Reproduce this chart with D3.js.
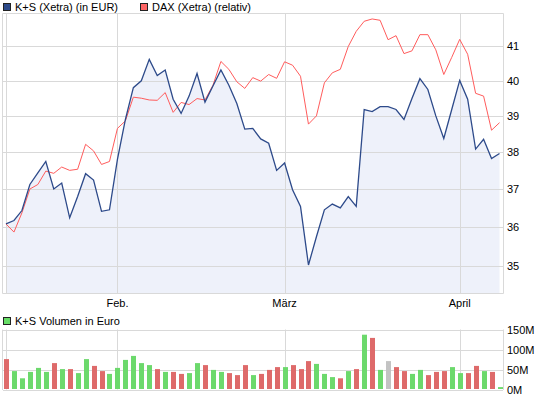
<!DOCTYPE html>
<html>
<head>
<meta charset="utf-8">
<script src="https://cdn.jsdelivr.net/npm/d3@7"></script>
<style>
  html, body { margin: 0; padding: 0; background: #fff; }
  svg { display: block; }
  text { font-family: "Liberation Sans", Arial, sans-serif; font-size: 11px; fill: #000; }
</style>
</head>
<body>
<svg id="chart" width="545" height="398"></svg>
<script>
// ---- data ----
const ksClose = [36.08,36.17,36.43,37.12,37.43,37.74,37.0,37.16,36.24,36.8,
  37.41,37.24,36.41,36.45,37.8,38.9,39.8,40.0,40.62,40.15,
  40.31,39.47,39.07,39.56,40.21,39.39,39.85,40.31,39.87,39.35,
  38.63,38.65,38.36,38.24,37.5,37.7,36.98,36.54,35.03,35.75,
  36.45,36.6,36.5,36.8,36.54,39.18,39.12,39.26,39.26,39.18,
  38.9,39.49,40.06,39.75,39.0,38.37,39.18,40.01,39.47,38.08,
  38.35,37.82,37.96];
const daxRelative = [36.08,35.87,36.37,37.0,37.12,37.48,37.42,37.59,37.5,37.53,
  38.21,38.03,37.66,37.74,38.65,38.86,39.53,39.5,39.45,39.44,
  39.66,39.1,39.38,39.32,39.49,39.45,39.87,40.56,40.33,39.97,
  39.78,40.09,39.99,40.18,40.07,40.55,40.45,40.13,38.77,39.0,
  39.94,40.23,40.33,41.0,41.45,41.75,41.82,41.78,41.2,41.32,
  40.79,40.87,41.35,41.35,40.9,40.18,40.68,41.21,40.77,39.64,
  39.56,38.6,38.81];
const volumeMillions = [76,46,28,44,54,44,66,51,51,41,76,59,46,39,54,74,84,66,61,51,
  44,44,39,41,66,61,49,44,41,36,61,36,39,49,56,56,61,51,71,64,
  39,31,28,46,51,137,129,49,71,56,46,39,49,36,44,46,56,41,41,59,46,44,6];
const prevClose = 36.2; // close before first day (first bar is a down day)
const monthLabels = ["Feb.", "März", "April"];
const monthIndex = [14, 35, 57];
const priceTicks = [35, 36, 37, 38, 39, 40, 41];
const volumeTicks = [0, 50, 100, 150];
const legendMain = ["K+S (Xetra) (in EUR)", "DAX (Xetra) (relativ)"];
const legendVolume = "K+S Volumen in Euro";

// ---- layout ----
const svg = d3.select("#chart");
const L = 3, R = 503, P0 = 6, P1 = 499.5;
const mainTop = 13, mainBot = 293;
const volTop = 329.5, volBot = 389.5;
const gridColor = "#d9d9d9";
const blue = "#2d4a8a", red = "#ff5c5c";
const cUp = "#6cd96c", cDown = "#de6a6a", cFlat = "#c3c3c3";

const n = ksClose.length;
const x = d3.scaleLinear().domain([0, n - 1]).range([P0, P1]);
const y = d3.scaleLog().domain([34.33, 42.0]).range([mainBot, mainTop]);
const yv = d3.scaleLinear().domain([0, 150]).range([volBot, volTop]);
const px = v => Math.round(v) + 0.5;

// ---- main panel ----
const gMain = svg.append("g");
// area fill
gMain.append("path")
  .datum(ksClose)
  .attr("fill", "#eef1fa")
  .attr("d", d3.area().x((d, i) => x(i)).y0(mainBot).y1(d => y(d)));
// horizontal grid
gMain.selectAll("line.hg").data(priceTicks).join("line")
  .attr("x1", L).attr("x2", R)
  .attr("y1", d => px(y(d))).attr("y2", d => px(y(d)))
  .attr("stroke", gridColor);
// vertical month grid
gMain.selectAll("line.vg").data(monthIndex).join("line")
  .attr("x1", d => px(x(d))).attr("x2", d => px(x(d)))
  .attr("y1", mainTop).attr("y2", mainBot)
  .attr("stroke", gridColor);
// frame
gMain.append("path")
  .attr("d", `M${L - 0.5},${mainTop + 0.5}H${R + 0.5}V${mainBot + 0.5}H${L - 0.5}Z`)
  .attr("fill", "none").attr("stroke", gridColor);
gMain.append("line").attr("x1", P0 + 0.5).attr("x2", P0 + 0.5)
  .attr("y1", mainTop).attr("y2", mainBot).attr("stroke", gridColor);
// lines
const lineGen = d3.line().x((d, i) => x(i)).y(d => y(d));
gMain.append("path").datum(daxRelative)
  .attr("fill", "none").attr("stroke", red).attr("stroke-width", 1).attr("d", lineGen);
gMain.append("path").datum(ksClose)
  .attr("fill", "none").attr("stroke", blue).attr("stroke-width", 1.3).attr("d", lineGen);

// right axis price labels
svg.selectAll("text.pt").data(priceTicks).join("text")
  .attr("x", 507).attr("y", d => y(d) + 4)
  .text(d => d);

// month labels
svg.selectAll("text.mt").data(monthIndex).join("text")
  .attr("x", d => x(d)).attr("y", 307).attr("text-anchor", "middle")
  .text((d, i) => monthLabels[i]);

// legend main
const leg = svg.append("g");
[[3, blue, legendMain[0]], [140, "#ff6666", legendMain[1]]].forEach(([lx, c, t]) => {
  leg.append("rect").attr("x", lx + 0.5).attr("y", 3.5).attr("width", 7).attr("height", 7)
    .attr("fill", c).attr("stroke", "#222");
  leg.append("text").attr("x", lx + 12).attr("y", 11).text(t);
});

// ---- volume panel ----
const gVol = svg.append("g");
gVol.selectAll("line.vhg").data(volumeTicks).join("line")
  .attr("x1", L).attr("x2", R)
  .attr("y1", d => px(yv(d))).attr("y2", d => px(yv(d)))
  .attr("stroke", gridColor);
gVol.selectAll("line.vvg").data(monthIndex).join("line")
  .attr("x1", d => px(x(d))).attr("x2", d => px(x(d)))
  .attr("y1", volTop).attr("y2", volBot)
  .attr("stroke", gridColor);
gVol.append("line").attr("x1", L - 0.5).attr("x2", L - 0.5)
  .attr("y1", volTop).attr("y2", volBot + 0.5).attr("stroke", gridColor);
gVol.append("line").attr("x1", P0 + 0.5).attr("x2", P0 + 0.5)
  .attr("y1", volTop).attr("y2", volBot).attr("stroke", gridColor);
gVol.append("line").attr("x1", R + 0.5).attr("x2", R + 0.5)
  .attr("y1", volTop).attr("y2", volBot + 0.5).attr("stroke", gridColor);

gVol.selectAll("rect.bar").data(volumeMillions).join("rect")
  .attr("x", (d, i) => Math.round(x(i)) - 2)
  .attr("width", 5)
  .attr("y", d => yv(d))
  .attr("height", d => volBot - 0.5 - yv(d))
  .attr("fill", (d, i) => {
    const prev = i === 0 ? prevClose : ksClose[i - 1];
    return ksClose[i] > prev ? cUp : (ksClose[i] < prev ? cDown : cFlat);
  });

svg.selectAll("text.vt").data(volumeTicks).join("text")
  .attr("x", 507).attr("y", d => yv(d) + 4)
  .text(d => d + "M");

svg.append("rect").attr("x", 3.5).attr("y", 317.5).attr("width", 7).attr("height", 7)
  .attr("fill", "#66dd66").attr("stroke", "#222");
svg.append("text").attr("x", 15).attr("y", 325).text(legendVolume);
</script>
</body>
</html>
